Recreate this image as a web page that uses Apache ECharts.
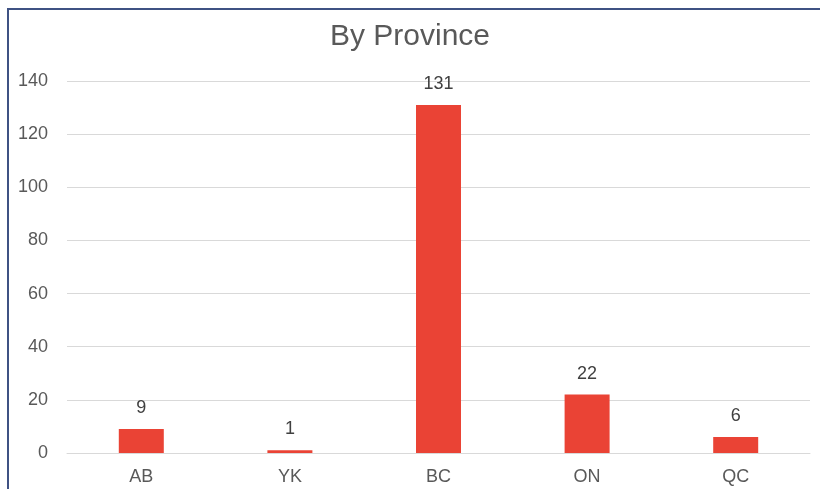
<!DOCTYPE html>
<html>
<head>
<meta charset="UTF-8">
<title>By Province</title>
<script src="https://cdn.jsdelivr.net/npm/echarts@6/dist/echarts.min.js"></script>
<style>
  html, body { margin: 0; padding: 0; background: #fff; }
  #frame { position: absolute; left: 7px; top: 8px; width: 813px; height: 481px;
           border-left: 2px solid #3f5283; border-top: 2px solid #3f5283; box-sizing: border-box; }
  #main { position: absolute; left: 0; top: 0; width: 820px; height: 489px; }
</style>
</head>
<body>
<div id="frame"></div>
<div id="main"></div>
<script>
var provinces = ['AB', 'YK', 'BC', 'ON', 'QC'];
var counts = [9, 1, 131, 22, 6];
var yTicks = [0, 20, 40, 60, 80, 100, 120, 140];

var chart = echarts.init(document.getElementById('main'));
chart.setOption({
    animation: false,
    textStyle: { fontFamily: 'Liberation Sans, Arial, sans-serif' },
    title: {
        text: 'By Province',
        left: 'center',
        top: 17,
        textStyle: { fontSize: 30, fontWeight: 'normal', color: '#595959' }
    },
    grid: { left: 67, right: 10, top: 81, bottom: 36 },
    xAxis: {
        type: 'category',
        data: provinces,
        axisTick: { show: false },
        axisLine: { lineStyle: { color: '#d9d9d9', width: 1 } },
        axisLabel: { fontSize: 18, color: '#595959', margin: 15 }
    },
    yAxis: {
        type: 'value',
        min: yTicks[0],
        max: yTicks[yTicks.length - 1],
        interval: 20,
        axisLine: { show: false },
        axisTick: { show: false },
        splitLine: { lineStyle: { color: '#d9d9d9', width: 1 } },
        axisLabel: { fontSize: 18, color: '#595959', margin: 19 }
    },
    series: [{
        type: 'bar',
        data: counts,
        barWidth: 45,
        itemStyle: { color: '#ea4335' },
        label: {
            show: true,
            position: 'top',
            distance: 12,
            fontSize: 18,
            color: '#404040'
        }
    }]
});
</script>
</body>
</html>
